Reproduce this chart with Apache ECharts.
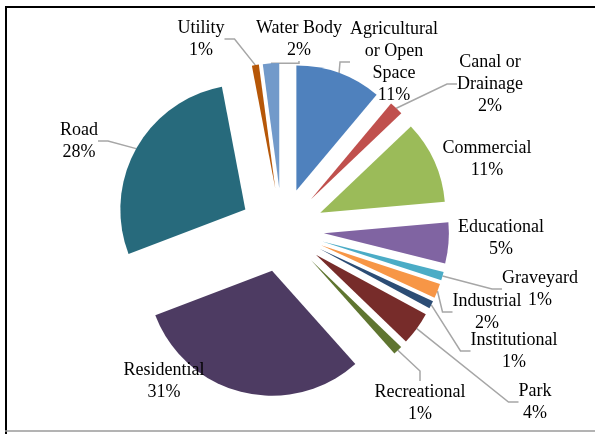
<!DOCTYPE html>
<html>
<head>
<meta charset="utf-8">
<script src="https://cdn.jsdelivr.net/npm/echarts@6/dist/echarts.min.js"></script>
<style>
  html, body { margin: 0; padding: 0; background: #fff; }
  #chart { width: 595px; height: 434px; }
</style>
</head>
<body>
<div id="chart"></div>
<script>
// Land use shares (percent of total area), clockwise from 12 o'clock
const categories = [
  'Agricultural or Open Space', 'Canal or Drainage', 'Commercial', 'Educational',
  'Graveyard', 'Industrial', 'Institutional', 'Park', 'Recreational',
  'Residential', 'Road', 'Utility', 'Water Body'
];
const shares = [11.1, 1.8, 10.7, 5.3, 1.1, 1.9, 1.0, 4.3, 1.2, 30.8, 27.8, 0.9, 2.1];
const colors = [
  '#4F81BD', '#C0504D', '#9BBB59', '#8064A2', '#4BACC6', '#F79646', '#2C4D75',
  '#772C2A', '#5F7530', '#4D3B62', '#276A7C', '#B65708', '#729ACA'
];

// How long names wrap inside their labels
const wrapped = {
  'Agricultural or Open Space': 'Agricultural\nor Open\nSpace',
  'Canal or Drainage': 'Canal or\nDrainage'
};
// Slices whose label sits right beside them and needs no leader line
const noLeader = ['Commercial', 'Educational', 'Residential'];
// Label block centres, indexed like categories
const labelSpots = [
  [394, 62], [490, 84], [487, 159], [501, 238], [540, 289], [487, 312],
  [514, 351], [535, 402], [420, 403], [164, 381], [79, 141], [201, 39], [299, 39]
];

// Pie geometry: shared apex, radius, and how far every slice is pulled out
const pieCenter = [282, 230];
const pieRadius = 125;
const explode = 42;

const chart = echarts.init(document.getElementById('chart'), null, { renderer: 'canvas' });

const total = shares.reduce((a, b) => a + b, 0);
let running = 0;
const series = categories.map((cat, k) => {
  // Mid angle of this slice, measured clockwise from 12 o'clock
  const mid = (running + shares[k] / 2) / total * 2 * Math.PI;
  running += shares[k];
  const data = categories.map((name, i) => ({
    name,
    value: shares[i],
    itemStyle: { color: i === k ? colors[i] : 'rgba(0,0,0,0)' },
    label: { show: i === k },
    labelLine: { show: i === k && noLeader.indexOf(name) < 0 }
  }));
  return {
    type: 'pie',
    name: cat,
    center: [pieCenter[0] + explode * Math.sin(mid), pieCenter[1] - explode * Math.cos(mid)],
    radius: pieRadius,
    startAngle: 90,
    clockwise: true,
    percentPrecision: 0,
    avoidLabelOverlap: false,
    silent: true,
    data,
    itemStyle: { borderWidth: 0 },
    emphasis: { disabled: true },
    label: {
      position: 'outside',
      fontFamily: 'Liberation Serif',
      fontSize: 18,
      lineHeight: 22,
      color: '#000',
      align: 'center',
      formatter: p => (wrapped[p.name] || p.name) + '\n' + p.percent + '%'
    },
    labelLine: {
      length: 10,
      length2: 10,
      lineStyle: { color: '#a6a6a6', width: 1.5 }
    },
    labelLayout: p => ({
      x: labelSpots[p.dataIndex][0],
      y: labelSpots[p.dataIndex][1],
      align: 'center',
      verticalAlign: 'middle'
    })
  };
});

chart.setOption({
  backgroundColor: '#fff',
  animation: false,
  graphic: [
    { type: 'line', shape: { x1: 5, y1: 7, x2: 595, y2: 7 }, style: { stroke: '#000', lineWidth: 2 } },
    { type: 'line', shape: { x1: 6, y1: 7, x2: 6, y2: 434 }, style: { stroke: '#000', lineWidth: 2 } },
    { type: 'line', shape: { x1: 5, y1: 431, x2: 595, y2: 431 }, style: { stroke: '#9a9a9a', lineWidth: 1.5 } }
  ],
  series
});
</script>
</body>
</html>
